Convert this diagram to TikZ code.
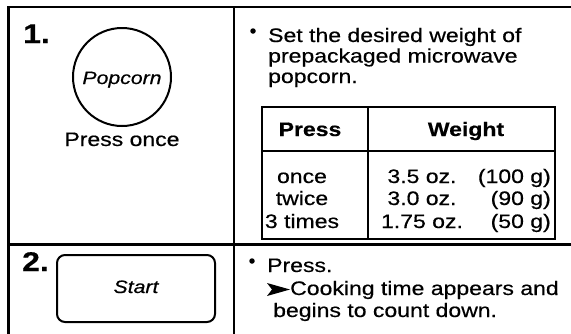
\documentclass[tikz,border=0pt]{standalone}
\usepackage{fontspec}
\setmainfont{Liberation Sans}[FakeStretch=1.18, FakeBold=0.5]
\begin{document}
\begin{tikzpicture}[x=1pt,y=-1pt,
  frame/.style={line width=2.6pt, line cap=rect},
  tab/.style={line width=1.8pt},
  txt/.style={inner sep=0pt, font=\fontsize{19.5}{21}\selectfont},
  hdr/.style={inner sep=0pt, font=\fontsize{19.5}{21}\selectfont\bfseries},
  num/.style={inner sep=0pt, font=\fontsize{27}{30}\selectfont\bfseries},
  key/.style={inner sep=0pt, font=\fontsize{18}{20}\selectfont\itshape},
  dot/.style={circle, fill, inner sep=0pt, minimum size=5.5pt},
]
\useasboundingbox (0,0) rectangle (571,333);
\fill[white] (0,0) rectangle (571,333);
% frame
\coordinate (tl) at (8.5,7);
\coordinate (tr) at (571,7);
\coordinate (bl) at (8.5,333);
\coordinate (dt) at (234,7);
\coordinate (db) at (234,333);
\coordinate (ml) at (8.5,244.5);
\coordinate (mr) at (571,244.5);
\draw[frame] (tr) -- (tl) -- (bl);
\draw[frame] (dt) -- (db);
\draw[frame] (ml) -- (mr);

% step 1
\node[num, anchor=base west] (n1) at (23,43) {1.};
\node[circle, draw, line width=2pt, minimum size=98pt, inner sep=0pt] (pop) at (122,77) {};
\node[key, anchor=base] (poptxt) at (122,84) {Popcorn};
\node[txt, anchor=base] (once) at (122,146) {Press once};

\node[dot] (b1) at (253,31) {};
\node[txt, anchor=base west] (l1) at (268,42) {Set the desired weight of};
\node[txt, anchor=base west] (l2) at (268,62.5) {prepackaged microwave};
\node[txt, anchor=base west] (l3) at (268,83) {popcorn.};

% table
\coordinate (t1) at (262,107);
\coordinate (t2) at (555,239);
\coordinate (h1) at (262,151);
\coordinate (h2) at (555,151);
\coordinate (c1) at (368,107);
\coordinate (c2) at (368,239);
\draw[tab] (t1) rectangle (t2);
\draw[line width=2.6pt] (h1) -- (h2);
\draw[tab] (c1) -- (c2);
\node[hdr, anchor=base] (hp) at (310,136) {Press};
\node[hdr, anchor=base] (hw) at (466,136) {Weight};
\node[txt, anchor=base] (r1a) at (302,183) {once};
\node[txt, anchor=base] (r2a) at (302,205) {twice};
\node[txt, anchor=base] (r3a) at (302,228) {3 times};
\node[txt, anchor=base] (r1b) at (422,183) {3.5 oz.};
\node[txt, anchor=base] (r2b) at (422,205) {3.0 oz.};
\node[txt, anchor=base] (r3b) at (422,228) {1.75 oz.};
\node[txt, anchor=base east] (r1c) at (551,183) {(100 g)};
\node[txt, anchor=base east] (r2c) at (551,205) {(90 g)};
\node[txt, anchor=base east] (r3c) at (551,228) {(50 g)};

% step 2
\node[num, anchor=base west] (n2) at (22,271) {2.};
\node[draw, rounded corners=8pt, line width=2pt, minimum width=158pt, minimum height=67pt, inner sep=0pt] (start) at (136,288.5) {};
\node[key, anchor=base] (starttxt) at (136,293) {Start};

\node[dot] (b2) at (252,261) {};
\node[txt, anchor=base west] (p2) at (267,272) {Press.};
\fill (267,283) -- (290,289.5) -- (267,296) -- (272,289.5) -- cycle;
\node[txt, anchor=base west] (ck) at (290,295) {Cooking time appears and};
\node[txt, anchor=base west] (bg) at (273,317) {begins to count down.};
\end{tikzpicture}
\end{document}
